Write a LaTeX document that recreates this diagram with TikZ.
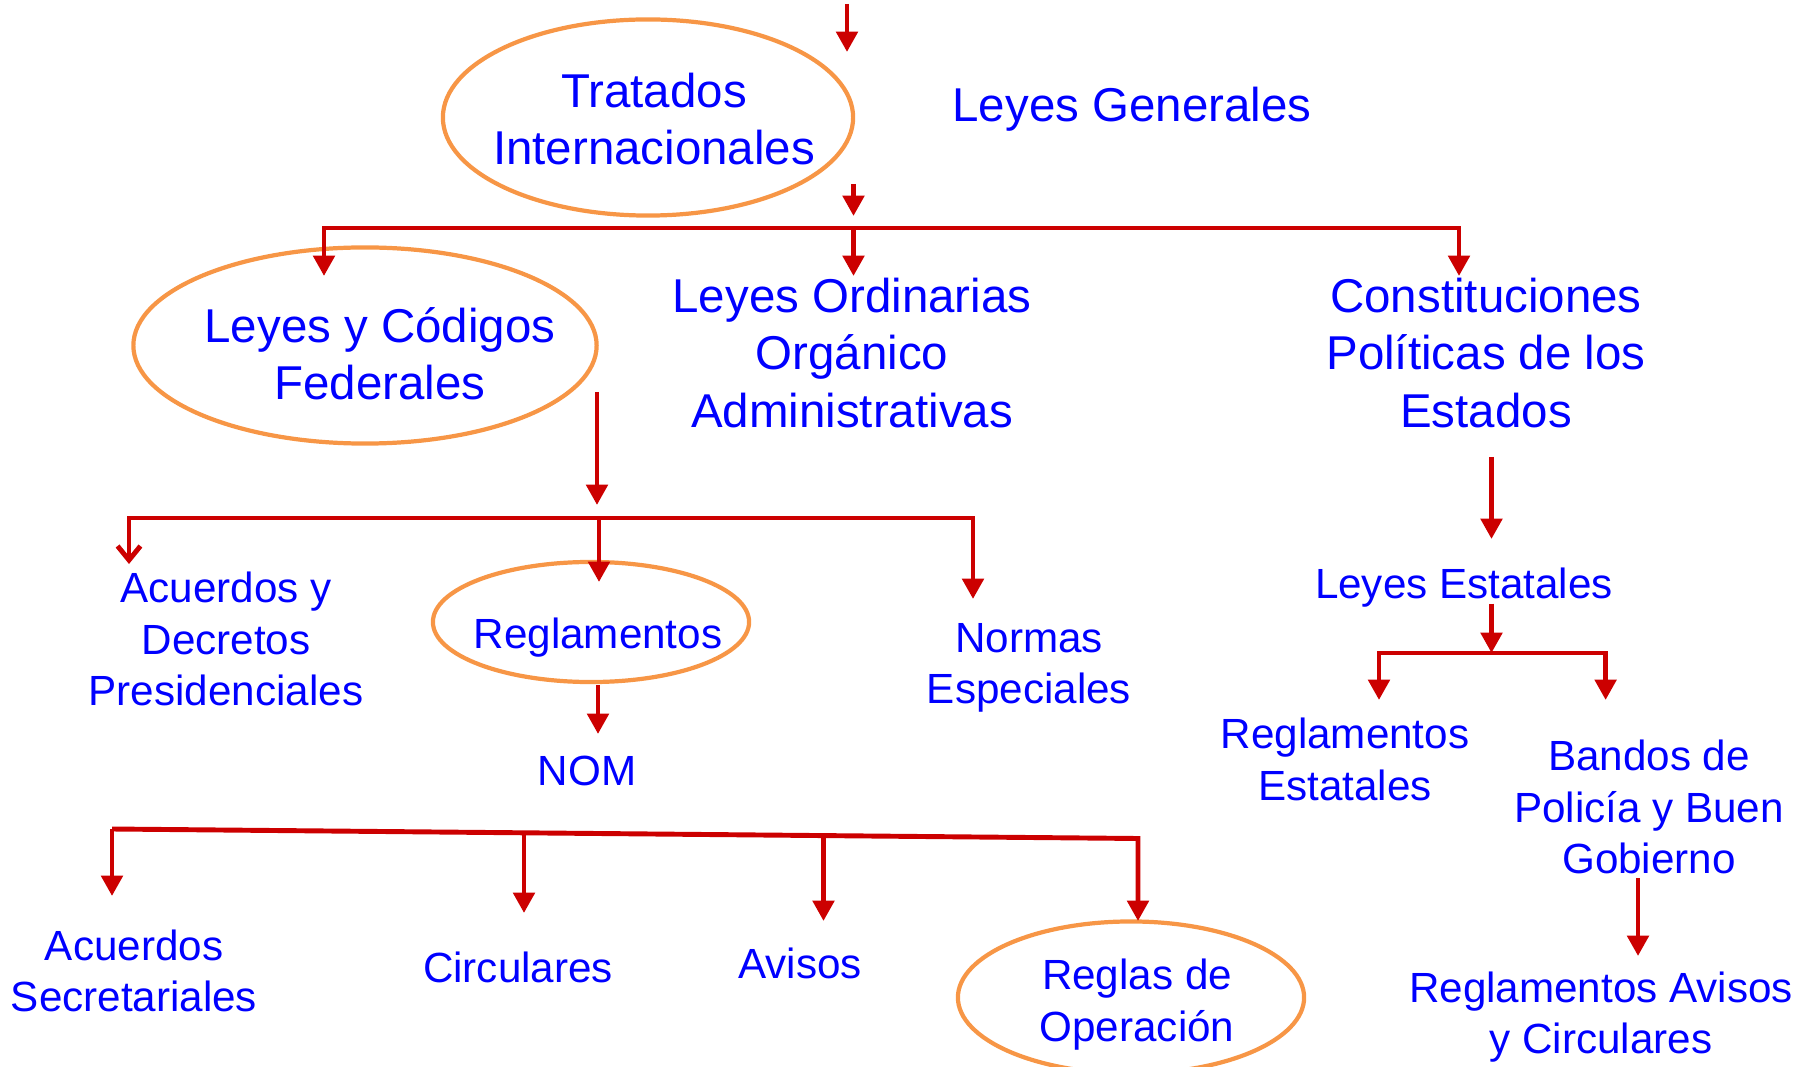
\documentclass[tikz,border=0pt]{standalone}
\usepackage{fontspec}
\setmainfont{Liberation Sans}
\usetikzlibrary{arrows.meta}
\definecolor{linered}{RGB}{204,0,0}
\definecolor{ovalorange}{RGB}{247,150,70}
\definecolor{textblue}{RGB}{0,0,255}
\tikzset{
  big/.style={text=textblue,font=\fontsize{13.5}{16.3}\selectfont,align=center,inner sep=0pt},
  small/.style={text=textblue,font=\fontsize{12}{14.7}\selectfont,align=center,inner sep=0pt},
  oval/.style={draw=ovalorange,line width=1.2pt},
  bus/.style={linered,line width=1.4pt},
  tip/.tip={Triangle[width=6pt,length=5.8pt]},
  arr/.style={bus,-tip},
  barb/.style={bus,{Straight Barb[width=6.5pt,length=4pt]}-tip}
}
\begin{document}
\begin{tikzpicture}[x=0.01cm,y=-0.01cm]
\useasboundingbox (0,0) rectangle (1806,1067);
% ovals
\draw[oval] (648,117.5) ellipse [x radius=2.05cm,y radius=0.98cm];
\draw[oval] (365,345.5) ellipse [x radius=2.315cm,y radius=0.98cm];
\draw[oval] (591,622) ellipse [x radius=1.58cm,y radius=0.6cm];
\draw[oval] (1131,997.5) ellipse [x radius=1.73cm,y radius=0.76cm];
% texts
\node[big] (trat) at (654,119) {Tratados\\Internacionales};
\node[big] (gen) at (1132,109.5) {Leyes Generales};
\node[big] (fed) at (380,354) {Leyes y Códigos\\Federales};
\node[big] (ord) at (852,353) {Leyes Ordinarias\\Orgánico\\Administrativas};
\node[big] (cons) at (1486,353) {Constituciones\\Políticas de los\\Estados};
\node[small] (acdec) at (226,639) {Acuerdos y\\Decretos\\Presidenciales};
\node[small] (regl) at (598,637.5) {Reglamentos};
\node[small] (norm) at (1029,668) {Normas\\Especiales};
\node[small] (nom) at (587,771) {NOM};
\node[small] (acsec) at (134,971) {Acuerdos\\Secretariales};
\node[small] (circ) at (518,967) {Circulares};
\node[small] (avis) at (800,963) {Avisos};
\node[small] (ropr) at (1137,1004.5) {Reglas de\\Operación};
\node[small] (lest) at (1464,587.5) {Leyes Estatales};
\node[small] (rest) at (1345,759.5) {Reglamentos\\Estatales};
\node[small] (band) at (1649,807) {Bandos de\\Policía y Buen\\Gobierno};
\node[small] (rac) at (1601,1017) {Reglamentos Avisos\\y Circulares};
% junctions
\coordinate (j1) at (853.5,228);
\coordinate (j2) at (599,518);
\coordinate (j3a) at (524,832.8);
\coordinate (j3b) at (823.5,835.6);
\coordinate (j4) at (1491.5,653);
% connectors
\draw[arr] (847,4) -- ++(0,48);
\draw[arr] (853.5,184) -- (j1 |- 0,216);
\draw[bus,tip-tip] (324,276) -- (324,228) -- (1459,228) -- (1459,276);
\draw[arr] (j1) -- ++(0,48);
\draw[arr] (597,392) -- ++(0,113);
\draw[barb] (129,564) -- (129,518) -- (973,518) -- (973,599);
\draw[arr] (j2) -- ++(0,64);
\draw[arr] (598,685) -- ++(0,49);
\draw[bus,-tip] (112,829) -- (1138,838.5) -- (1138,921);
\draw[arr] (112,829) -- (112,896);
\draw[arr] (j3a) -- (524,913);
\draw[arr] (j3b) -- (823.5,921);
\draw[arr] (1491.5,457) -- ++(0,82);
\draw[arr] (1491.5,603.5) -- (j4);
\draw[bus,tip-tip] (1379,700) -- (1379,653) -- (1605.6,653) -- (1605.6,700);
\draw[arr] (1638,878) -- ++(0,78);
\end{tikzpicture}
\end{document}
